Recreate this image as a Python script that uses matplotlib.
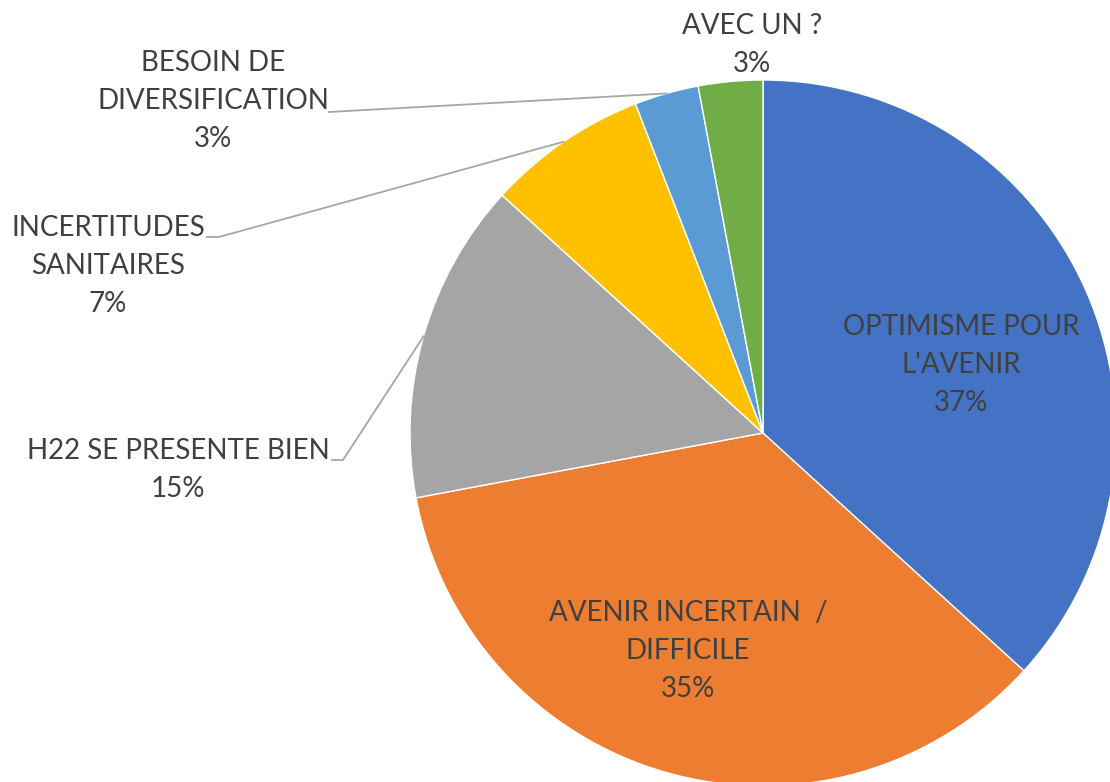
import numpy as np
import matplotlib
matplotlib.use('Agg')
import matplotlib.pyplot as plt

# survey answers (counts), drawn clockwise from 12 o'clock
categories = ['OPTIMISME POUR\nL\'AVENIR', 'AVENIR INCERTAIN  /\nDIFFICILE',
              'H22 SE PRESENTE BIEN', 'INCERTITUDES\nSANITAIRES',
              'BESOIN DE\nDIVERSIFICATION', 'AVEC UN ?']
counts = [25, 24, 10, 5, 2, 2]
colors = ['#4472C4', '#ED7D31', '#A5A5A5', '#FFC000', '#5B9BD5', '#70AD47']

# label anchors in pixel space (x, y from top), and where the leader line starts
label_pos = [(961, 365), (688, 651), (178, 470), (108, 266), (213, 101), (752, 45)]
leader_start = [None, None, (332, 460), (207, 237), (329, 112), None]
leader_elbow = [None, None, (343, 460), (219, 237), None, None]

W, H = 1110, 782
cx, cy, R = 763, 433, 353

plt.rcParams['font.family'] = 'Lato'
txt_color = '#404040'
line_color = '#A6A6A6'

fig = plt.figure(figsize=(W / 100, H / 100), dpi=100)
ax = fig.add_axes([0, 0, 1, 1])

wedges, _ = ax.pie(counts, colors=colors, startangle=90, counterclock=False,
                   center=(cx, H - cy), radius=R, frame=True,
                   wedgeprops=dict(edgecolor='white', linewidth=1))
ax.set_xlim(0, W)
ax.set_ylim(0, H)
ax.set_aspect('equal')
ax.axis('off')

total = sum(counts)
for i, (cat, n) in enumerate(zip(categories, counts)):
    pct = round(100 * n / total)
    lx, ly = label_pos[i]
    ax.text(lx, H - ly, f'{cat}\n{pct}%', ha='center', va='center',
            multialignment='center', fontsize=20, color=txt_color,
            linespacing=1.55)
    if leader_start[i] is not None:
        w = wedges[i]
        mid = np.deg2rad((w.theta1 + w.theta2) / 2)
        ex, ey = cx + R * np.cos(mid), (H - cy) + R * np.sin(mid)
        xs = [leader_start[i][0]]
        ys = [H - leader_start[i][1]]
        if leader_elbow[i] is not None:
            xs.append(leader_elbow[i][0])
            ys.append(H - leader_elbow[i][1])
        xs.append(ex)
        ys.append(ey)
        ax.plot(xs, ys, color=line_color, linewidth=1.3)

fig.savefig('out.png', dpi=100)
